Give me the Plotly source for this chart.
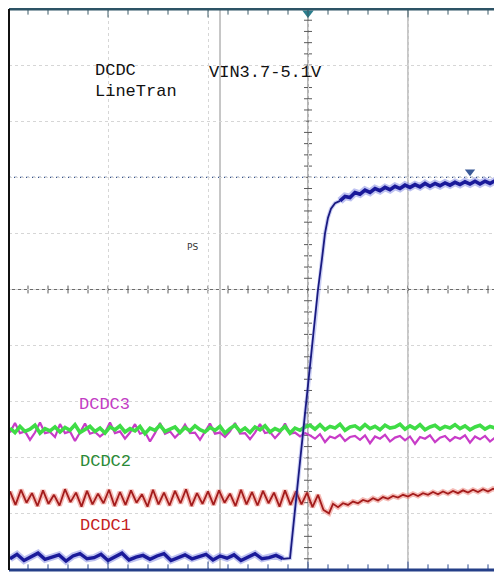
import numpy as np
import plotly.graph_objects as go

# ---------------- data (screen divisions: x = time div, y = vertical div) ----------------
# Channel: input step (blue)
blue_pre_t0, blue_pre_dt = -2.98, 0.07
blue_pre_v = [-4.80, -4.72, -4.83, -4.76, -4.70, -4.81, -4.77, -4.73, -4.84, -4.75,
              -4.71, -4.80, -4.78, -4.72, -4.83, -4.76, -4.70, -4.82, -4.77, -4.74,
              -4.81, -4.75, -4.71, -4.83, -4.78, -4.73, -4.80, -4.76, -4.72, -4.82,
              -4.75, -4.79, -4.73, -4.83, -4.77, -4.71, -4.80, -4.78, -4.74, -4.80]
blue_ramp_t = [-0.25, -0.18, -0.08, 0.02, 0.10, 0.14, 0.17, 0.20, 0.23, 0.27, 0.32]
blue_ramp_v = [-4.80, -4.79, -3.07, -1.36, 0.00, 0.55, 1.00, 1.28, 1.44, 1.54, 1.58]
blue_post_t0, blue_post_dt = 0.32, 0.05
blue_post_v = [1.58, 1.66, 1.64, 1.73, 1.70, 1.77, 1.73, 1.80, 1.76, 1.82,
               1.78, 1.84, 1.80, 1.86, 1.82, 1.87, 1.83, 1.89, 1.84, 1.89,
               1.85, 1.90, 1.86, 1.91, 1.87, 1.92, 1.88, 1.93, 1.88, 1.93,
               1.89, 1.94, 1.90]

# DCDC1 (red)
red_zig_t0, red_zig_dt = -2.98, 0.055
red_zig_v = [-3.60, -3.84, -3.57, -3.80, -3.63, -3.86, -3.58, -3.82, -3.66, -3.85,
             -3.56, -3.79, -3.62, -3.87, -3.59, -3.83, -3.64, -3.81, -3.57, -3.86,
             -3.61, -3.84, -3.58, -3.80, -3.65, -3.87, -3.57, -3.83, -3.62, -3.85,
             -3.59, -3.81, -3.56, -3.86, -3.63, -3.82, -3.60, -3.84, -3.58, -3.80,
             -3.64, -3.86, -3.57, -3.83, -3.61, -3.85, -3.59, -3.81, -3.62, -3.87,
             -3.58, -3.84, -3.60, -3.83, -3.62, -3.88, -3.66, -3.93, -3.99]
red_rec_t0, red_rec_dt = 0.25, 0.05
red_rec_v = [-3.82, -3.88, -3.81, -3.84, -3.78, -3.81, -3.75, -3.78, -3.72, -3.76,
             -3.70, -3.73, -3.68, -3.71, -3.66, -3.69, -3.64, -3.68, -3.63, -3.66,
             -3.61, -3.65, -3.60, -3.64, -3.59, -3.63, -3.58, -3.62, -3.57, -3.61,
             -3.56, -3.60, -3.55, -3.59]

# DCDC2 (green) and DCDC3 (magenta), shared sample clock
fast_t0, fast_dt = -2.98, 0.05
green_v = [-2.47, -2.55, -2.44, -2.53, -2.49, -2.42, -2.56, -2.48, -2.52, -2.45,
           -2.54, -2.46, -2.51, -2.41, -2.55, -2.49, -2.44, -2.53, -2.47, -2.56,
           -2.45, -2.50, -2.43, -2.54, -2.48, -2.52, -2.44, -2.57, -2.47, -2.51,
           -2.42, -2.53, -2.49, -2.45, -2.55, -2.46, -2.52, -2.43, -2.50, -2.54,
           -2.46, -2.51, -2.44, -2.56, -2.48, -2.42, -2.53, -2.47, -2.55, -2.45,
           -2.50, -2.43, -2.54, -2.48, -2.52, -2.44, -2.56, -2.47, -2.51, -2.45,
           -2.42, -2.49, -2.41, -2.50, -2.44, -2.47, -2.40, -2.51, -2.45, -2.43,
           -2.49, -2.41, -2.48, -2.44, -2.50, -2.42, -2.47, -2.45, -2.40, -2.49,
           -2.43, -2.48, -2.41, -2.50, -2.45, -2.42, -2.49, -2.44, -2.47, -2.41,
           -2.48, -2.43, -2.50, -2.45, -2.42, -2.49, -2.44, -2.47, -2.43]
magenta_v = [-2.55, -2.38, -2.56, -2.53, -2.68, -2.55, -2.37, -2.56, -2.54, -2.63,
             -2.40, -2.56, -2.53, -2.70, -2.55, -2.39, -2.57, -2.54, -2.62, -2.55,
             -2.37, -2.56, -2.53, -2.66, -2.55, -2.40, -2.57, -2.54, -2.71, -2.56,
             -2.38, -2.57, -2.53, -2.64, -2.55, -2.41, -2.56, -2.55, -2.68, -2.54,
             -2.39, -2.57, -2.55, -2.63, -2.53, -2.38, -2.57, -2.56, -2.67, -2.55,
             -2.40, -2.56, -2.54, -2.65, -2.55, -2.39, -2.57, -2.55, -2.62, -2.56,
             -2.60, -2.66, -2.58, -2.72, -2.62, -2.65, -2.59, -2.70, -2.63, -2.61,
             -2.68, -2.60, -2.74, -2.62, -2.66, -2.59, -2.71, -2.64, -2.61, -2.69,
             -2.62, -2.75, -2.63, -2.66, -2.60, -2.72, -2.64, -2.61, -2.70, -2.63,
             -2.66, -2.60, -2.73, -2.62, -2.67, -2.61, -2.71, -2.64, -2.68]

labels = ["DCDC3", "DCDC2", "DCDC1"]
title_lines = ["DCDC", "LineTran"]
vin_text = "VIN3.7-5.1V"

# cursor / marker positions (divisions)
cursor_level = 2.0
cursor_times = [-0.88, 1.0]
cursor_mark = (1.62, 2.1)


def times(t0, dt, n):
    return [round(t0 + dt * i, 4) for i in range(n)]


blue_pre_t = times(blue_pre_t0, blue_pre_dt, len(blue_pre_v))
blue_post_t = times(blue_post_t0, blue_post_dt, len(blue_post_v))
red_t = times(red_zig_t0, red_zig_dt, len(red_zig_v)) + times(red_rec_t0, red_rec_dt, len(red_rec_v))
red_v = red_zig_v + red_rec_v
fast_t = times(fast_t0, fast_dt, len(green_v))

fig = go.Figure()


def add_line(x, y, color, width, halo=None, halo_w=0):
    if halo:
        fig.add_trace(go.Scatter(x=x, y=y, mode="lines", line=dict(color=halo, width=halo_w),
                                 hoverinfo="skip", showlegend=False))
    fig.add_trace(go.Scatter(x=x, y=y, mode="lines", line=dict(color=color, width=width),
                             hoverinfo="skip", showlegend=False))


add_line(fast_t, magenta_v, "#c83cc8", 2.2)
add_line(fast_t, green_v, "#3fdc46", 3.6)
add_line(red_t, red_v, "#a31c1c", 1.8, "rgba(235,120,110,0.5)", 5)
add_line(blue_pre_t, blue_pre_v, "#1a1a9a", 3.4, "rgba(110,120,225,0.45)", 7)
add_line(blue_ramp_t, blue_ramp_v, "#1a1a80", 1.8, "rgba(110,120,225,0.35)", 4)
add_line(blue_post_t, blue_post_v, "#1a1a9a", 3.6, "rgba(110,120,225,0.45)", 7.5)

# markers (trigger + cursor)
fig.add_trace(go.Scatter(x=[0], y=[4.93], mode="markers", cliponaxis=False,
                         marker=dict(symbol="triangle-down", size=10, color="#2b7f8e"),
                         hoverinfo="skip", showlegend=False))
fig.add_trace(go.Scatter(x=[cursor_mark[0]], y=[cursor_mark[1]], mode="markers",
                         marker=dict(symbol="triangle-down", size=9, color="#3b5a98"),
                         hoverinfo="skip", showlegend=False))

shapes = []
# center axes
shapes.append(dict(type="line", x0=0, x1=0, y0=-5, y1=5, line=dict(color="#6a6a6a", width=1), layer="below"))
shapes.append(dict(type="line", x0=-3, x1=2, y0=0, y1=0, line=dict(color="#6a6a6a", width=1), layer="below"))
for ct in cursor_times:
    shapes.append(dict(type="line", x0=ct, x1=ct, y0=-5, y1=5, line=dict(color="#8e8e8e", width=1), layer="below"))
shapes.append(dict(type="line", x0=-3, x1=2, y0=cursor_level, y1=cursor_level,
                   line=dict(color="#33508a", width=1.3, dash="dot"), layer="below"))

xt = np.round(np.arange(-2.8, 1.95, 0.2), 2)
yt = np.round(np.arange(-4.8, 5.0, 0.2), 2)
for t in xt:
    major = abs(t - round(t)) < 1e-6
    L = 0.15 if major else 0.1
    shapes.append(dict(type="line", x0=t, x1=t, y0=5, y1=5 - L, line=dict(color="#3d5a66", width=1)))
    shapes.append(dict(type="line", x0=t, x1=t, y0=-5, y1=-5 + L, line=dict(color="#2c4a90", width=1)))
    shapes.append(dict(type="line", x0=t, x1=t, y0=-0.07, y1=0.07, line=dict(color="#5a5a5a", width=1), layer="below"))
for v in yt:
    shapes.append(dict(type="line", x0=-0.04, x1=0.04, y0=v, y1=v, line=dict(color="#5a5a5a", width=1), layer="below"))

# frame borders
shapes.append(dict(type="line", xref="paper", yref="paper", x0=0, x1=1, y0=1, y1=1,
                   line=dict(color="#2d5365", width=3)))
shapes.append(dict(type="line", xref="paper", yref="paper", x0=0, x1=1, y0=0, y1=0,
                   line=dict(color="#243f88", width=3)))
shapes.append(dict(type="line", xref="paper", yref="paper", x0=0, x1=0, y0=0, y1=1,
                   line=dict(color="#111111", width=2)))

mono = "Liberation Mono"
fs = 17
ann = [
    dict(x=-2.15, y=3.91, text=title_lines[0], font=dict(color="#111", size=fs, family=mono)),
    dict(x=-2.15, y=3.53, text=title_lines[1], font=dict(color="#111", size=fs, family=mono)),
    dict(x=-1.01, y=3.86, text=vin_text, font=dict(color="#111", size=fs, family=mono)),
    dict(x=-2.31, y=-2.05, text=labels[0], font=dict(color="#c23cc4", size=fs, family=mono)),
    dict(x=-2.30, y=-3.07, text=labels[1], font=dict(color="#2a8a36", size=fs, family=mono)),
    dict(x=-2.30, y=-4.20, text=labels[2], font=dict(color="#c42222", size=fs, family=mono)),
    dict(x=-1.23, y=0.75, text="PS", font=dict(color="#333", size=9, family="DejaVu Sans")),
]
for a in ann:
    a.update(xref="x", yref="y", xanchor="left", yanchor="middle", showarrow=False)

# page body adds an 8px offset; plot area spans page pixels x 9..502, y 9..570
fig.update_layout(
    width=494, height=566,
    margin=dict(l=1, r=0, t=1, b=4),
    paper_bgcolor="white", plot_bgcolor="white",
    shapes=shapes, annotations=ann,
    xaxis=dict(range=[-2.99, 1.94], showgrid=True, dtick=1, tick0=0, gridcolor="#d6d6d6",
               griddash="dot", gridwidth=1, zeroline=False, showticklabels=False, ticks=""),
    yaxis=dict(range=[-5, 5], showgrid=True, dtick=1, tick0=0, gridcolor="#d6d6d6",
               griddash="dot", gridwidth=1, zeroline=False, showticklabels=False, ticks=""),
)

fig.write_html("out.html")
